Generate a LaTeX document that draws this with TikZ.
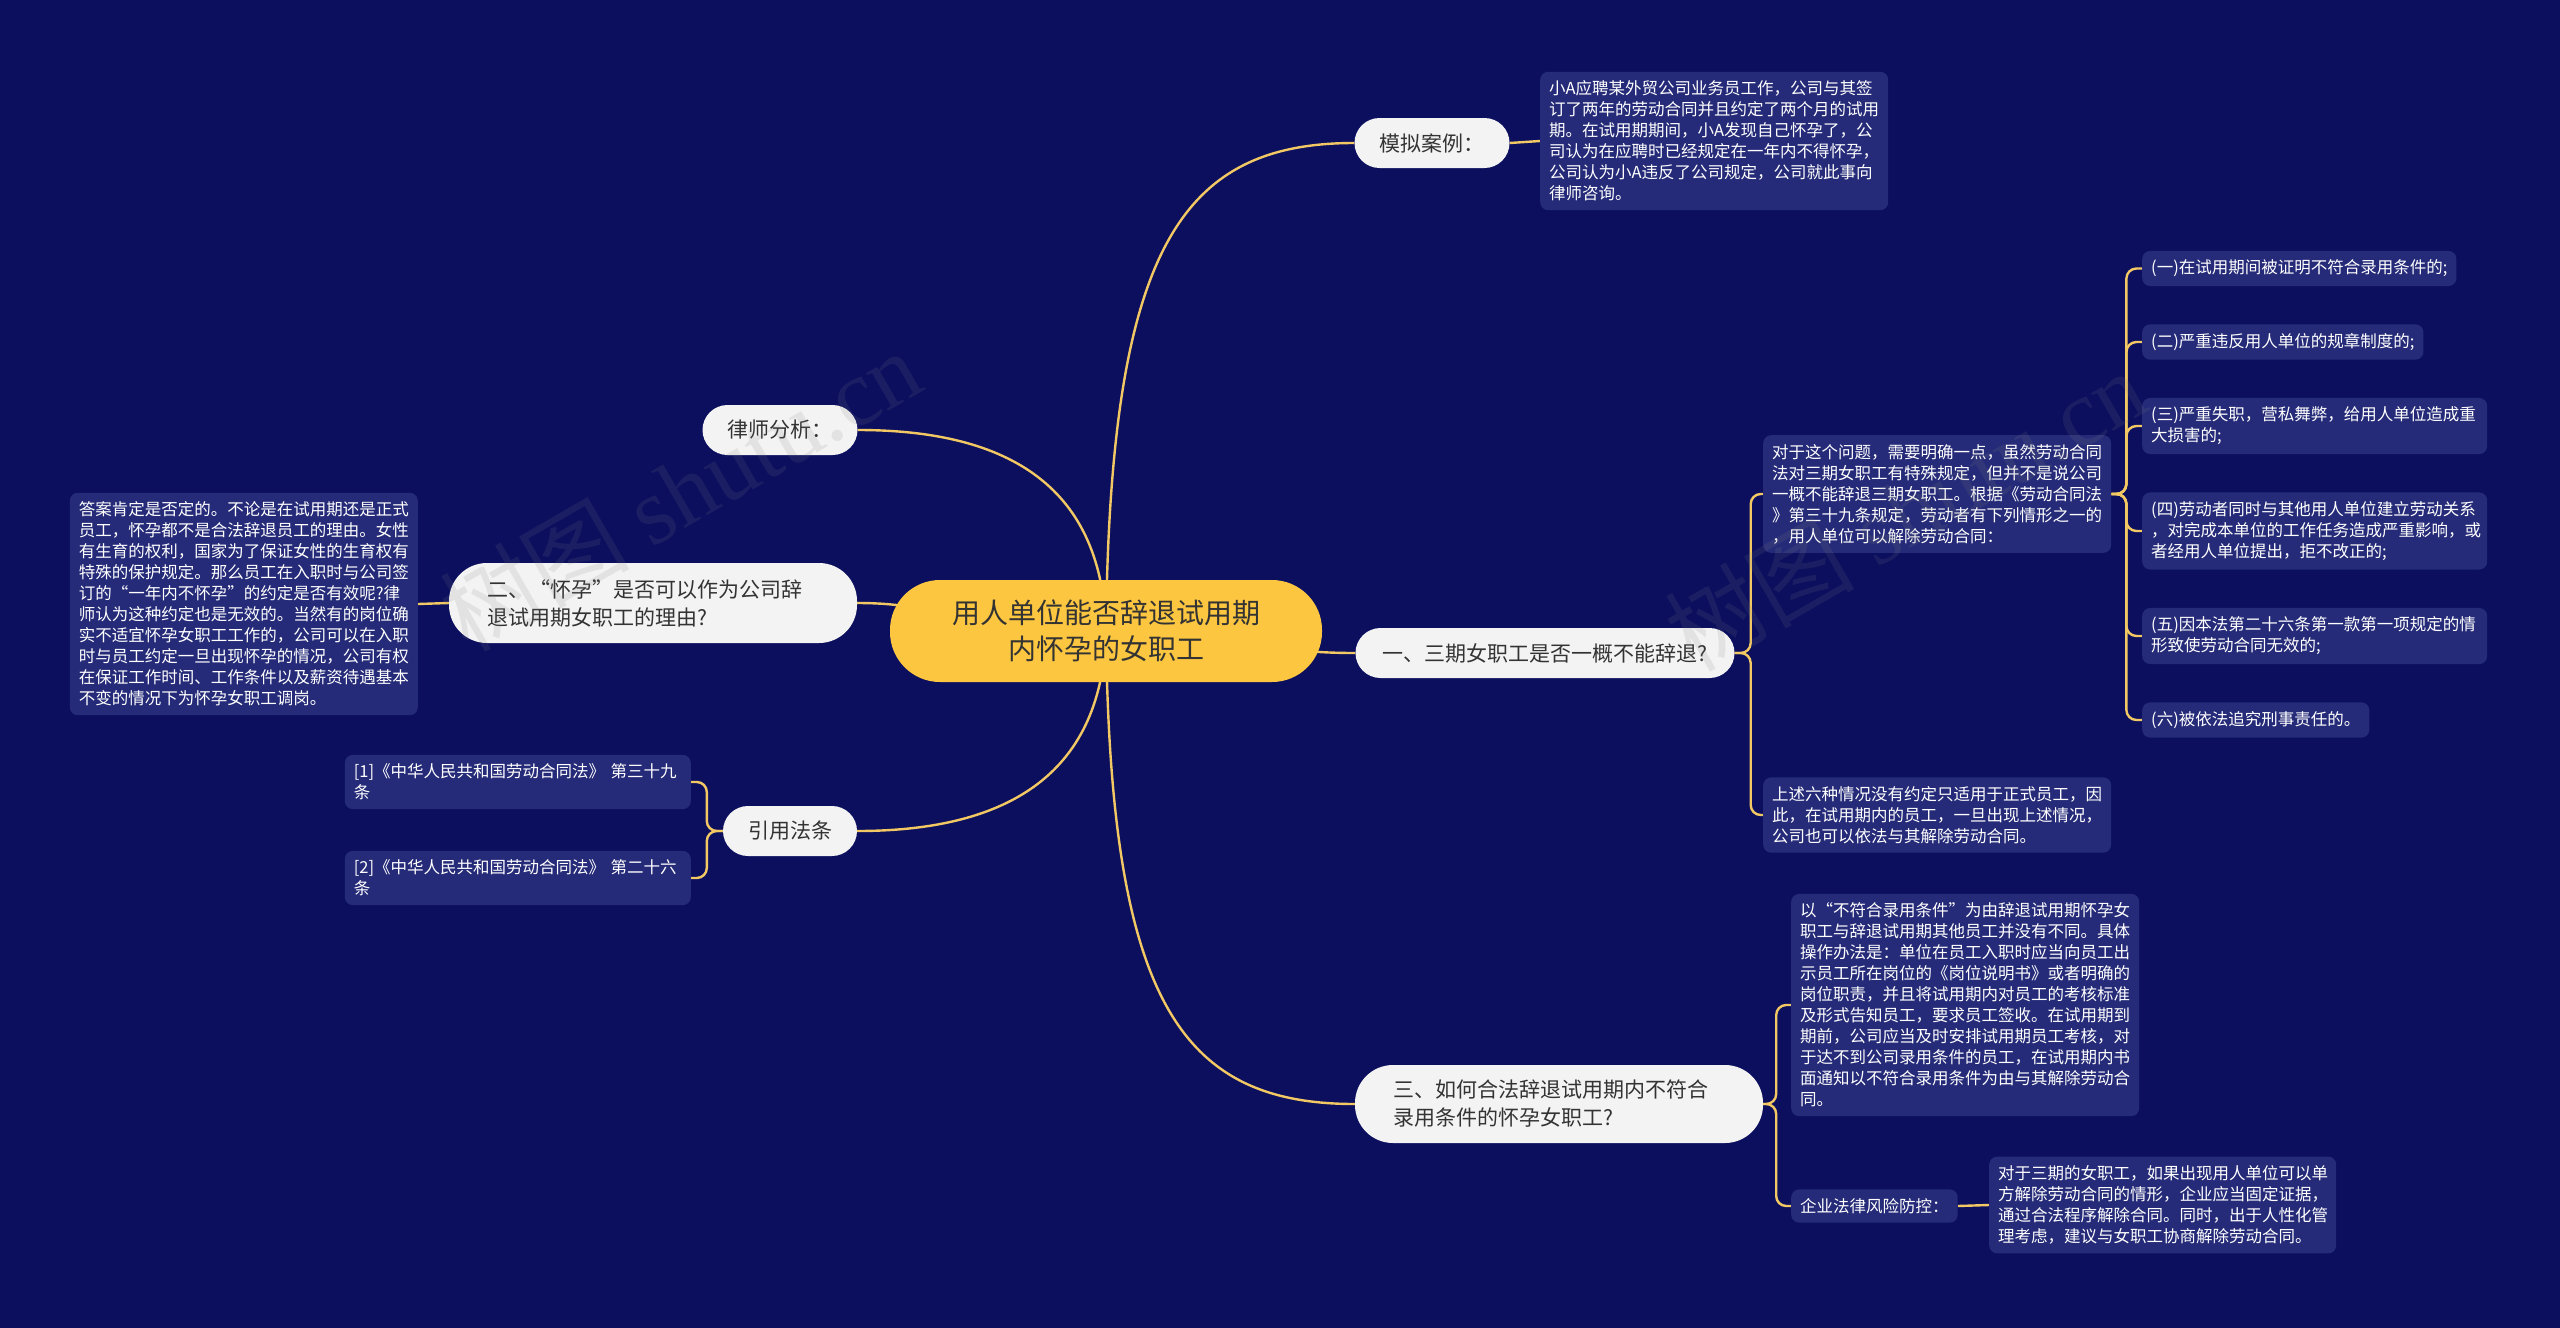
\documentclass[tikz,border=0pt]{standalone}
\usepackage{fontspec}
\setmainfont{Noto Sans CJK SC}
\newfontfamily\wmlatin{Liberation Serif}
\usetikzlibrary{calc}
\definecolor{bgnavy}{RGB}{11,15,94}
\definecolor{boxnavy}{RGB}{37,43,120}
\definecolor{pillgray}{RGB}{243,243,243}
\definecolor{txtdark}{RGB}{51,51,51}
\definecolor{goldline}{RGB}{242,200,100}
\definecolor{centeryellow}{RGB}{252,198,64}
\pgfdeclarelayer{backlayer}
\pgfdeclarelayer{linelayer}
\pgfdeclarelayer{toplayer}
\pgfsetlayers{backlayer,linelayer,main,toplayer}
\newcommand\fsSmall{\fontsize{16.5}{21}\selectfont}
\newcommand\fsMid{\fontsize{21}{28}\selectfont}
\newcommand\fsBig{\fontsize{28}{36}\selectfont}
\newcommand\fsWater{\fontsize{95}{95}\selectfont}
\begin{document}
\begin{tikzpicture}[x=1pt,y=-1pt,
  dbox/.style={fill=boxnavy, text=white, rounded corners=8, inner xsep=9, inner ysep=9, align=left, font=\fsSmall},
  pill/.style={fill=pillgray, text=txtdark, rounded corners=25, inner sep=0, minimum height=50, font=\fsMid},
  conn/.style={draw=goldline, line width=2.4, rounded corners=10},
  water/.style={rotate=30, text=gray, opacity=0.14, font=\fsWater}]
\begin{pgfonlayer}{backlayer}
\fill[bgnavy] (0,0) rectangle (2560,1328);
\end{pgfonlayer}
\useasboundingbox (0,0) rectangle (2560,1328);

% center
\node[fill=centeryellow, text=txtdark, rounded corners=50, minimum width=432, minimum height=102, align=center, font=\fsBig, inner sep=0] (c) at (1106,631) {用人单位能否辞退试用期\\内怀孕的女职工};

% level 1
\node[pill, minimum width=155] (m1) at (1432,143) {模拟案例：};
\node[pill, minimum width=379] (q1) at (1545,653) {一、三期女职工是否一概不能辞退?};
\node[pill, minimum width=408, minimum height=78, rounded corners=38, align=left, text width=332] (q3) at (1559,1104) {三、如何合法辞退试用期内不符合\\录用条件的怀孕女职工?};
\node[pill, minimum width=155] (lw) at (780,430) {律师分析：};
\node[pill, minimum width=408, minimum height=80, rounded corners=38, align=left, text width=332] (q2) at (653,603) {二、“怀孕”是否可以作为公司辞\\退试用期女职工的理由?};
\node[pill, minimum width=134] (yy) at (790,831) {引用法条};

% level 2 right
\node[dbox, text width=330, anchor=west] (tm) at (1540,141) {小A应聘某外贸公司业务员工作，公司与其签\\订了两年的劳动合同并且约定了两个月的试用\\期。在试用期期间，小A发现自己怀孕了，公\\司认为在应聘时已经规定在一年内不得怀孕，\\公司认为小A违反了公司规定，公司就此事向\\律师咨询。};
\node[dbox, text width=330, anchor=west] (tq1) at (1763,494) {对于这个问题，需要明确一点，虽然劳动合同\\法对三期女职工有特殊规定，但并不是说公司\\一概不能辞退三期女职工。根据《劳动合同法\\》第三十九条规定，劳动者有下列情形之一的\\，用人单位可以解除劳动合同：};
\node[dbox, text width=330, anchor=west] (tq1b) at (1763,815) {上述六种情况没有约定只适用于正式员工，因\\此，在试用期内的员工，一旦出现上述情况，\\公司也可以依法与其解除劳动合同。};

\node[dbox, anchor=west] (i1) at (2142,268.5) {(一)在试用期间被证明不符合录用条件的;};
\node[dbox, anchor=west] (i2) at (2142,342) {(二)严重违反用人单位的规章制度的;};
\node[dbox, anchor=west, text width=327] (i3) at (2142,426) {(三)严重失职，营私舞弊，给用人单位造成重\\大损害的;};
\node[dbox, anchor=west, text width=327] (i4) at (2142,531) {(四)劳动者同时与其他用人单位建立劳动关系\\，对完成本单位的工作任务造成严重影响，或\\者经用人单位提出，拒不改正的;};
\node[dbox, anchor=west, text width=327] (i5) at (2142,636) {(五)因本法第二十六条第一款第一项规定的情\\形致使劳动合同无效的;};
\node[dbox, anchor=west] (i6) at (2142,720) {(六)被依法追究刑事责任的。};

\node[dbox, text width=330, anchor=west] (tq3) at (1791,1005) {以“不符合录用条件”为由辞退试用期怀孕女\\职工与辞退试用期其他员工并没有不同。具体\\操作办法是：单位在员工入职时应当向员工出\\示员工所在岗位的《岗位说明书》或者明确的\\岗位职责，并且将试用期内对员工的考核标准\\及形式告知员工，要求员工签收。在试用期到\\期前，公司应当及时安排试用期员工考核，对\\于达不到公司录用条件的员工，在试用期内书\\面通知以不符合录用条件为由与其解除劳动合\\同。};
\node[dbox, anchor=west] (risk) at (1791,1206) {企业法律风险防控：};
\node[dbox, text width=329, anchor=west] (riskc) at (1989,1205) {对于三期的女职工，如果出现用人单位可以单\\方解除劳动合同的情形，企业应当固定证据，\\通过合法程序解除合同。同时，出于人性化管\\理考虑，建议与女职工协商解除劳动合同。};

% level 2 left
\node[dbox, text width=330, anchor=east] (tq2) at (418,604) {答案肯定是否定的。不论是在试用期还是正式\\员工，怀孕都不是合法辞退员工的理由。女性\\有生育的权利，国家为了保证女性的生育权有\\特殊的保护规定。那么员工在入职时与公司签\\订的“一年内不怀孕”的约定是否有效呢?律\\师认为这种约定也是无效的。当然有的岗位确\\实不适宜怀孕女职工工作的，公司可以在入职\\时与员工约定一旦出现怀孕的情况，公司有权\\在保证工作时间、工作条件以及薪资待遇基本\\不变的情况下为怀孕女职工调岗。};
\node[dbox, text width=328, anchor=east] (r1) at (691,782) {[1]《中华人民共和国劳动合同法》 第三十九\\条};
\node[dbox, text width=328, anchor=east] (r2) at (691,878) {[2]《中华人民共和国劳动合同法》 第二十六\\条};

% connectors
\begin{pgfonlayer}{linelayer}
\draw[conn] (c.center) .. controls (1110,250) and (1180,143) .. (m1.west);
\draw[conn] (c.center) .. controls (1250,631) and (1250,653) .. (q1.west);
\draw[conn] (c.center) .. controls (1110,1000) and (1180,1104) .. (q3.west);
\draw[conn] (c.center) .. controls (1102,480) and (1000,430) .. (lw.east);
\draw[conn] (c.center) .. controls (950,631) and (950,603) .. (q2.east);
\draw[conn] (c.center) .. controls (1102,780) and (1000,831) .. (yy.east);

\draw[conn] (m1.east) -- (tm.west);
\draw[conn] (q1.east) -- ++(16,0) |- (tq1.west);
\draw[conn] (q1.east) -- ++(16,0) |- (tq1b.west);
\foreach \k in {i1,i2,i3,i4,i5,i6}
  \draw[conn] (tq1.east) -- ++(15,0) |- (\k.west);
\draw[conn] (q3.east) -- ++(13,0) |- (tq3.west);
\draw[conn] (q3.east) -- ++(13,0) |- (risk.west);
\draw[conn] (risk.east) -- (riskc.west);
\draw[conn] (q2.west) -- (tq2.east);
\draw[conn] (yy.west) -- ++(-16,0) |- (r1.east);
\draw[conn] (yy.west) -- ++(-16,0) |- (r2.east);
\end{pgfonlayer}

% watermark
\begin{pgfonlayer}{toplayer}
\node[water] (wm1) at (680,490) {树图 {\wmlatin shutu.cn}};
\node[water] (wm2) at (1905,510) {树图 {\wmlatin shutu.cn}};
\end{pgfonlayer}
\end{tikzpicture}
\end{document}
